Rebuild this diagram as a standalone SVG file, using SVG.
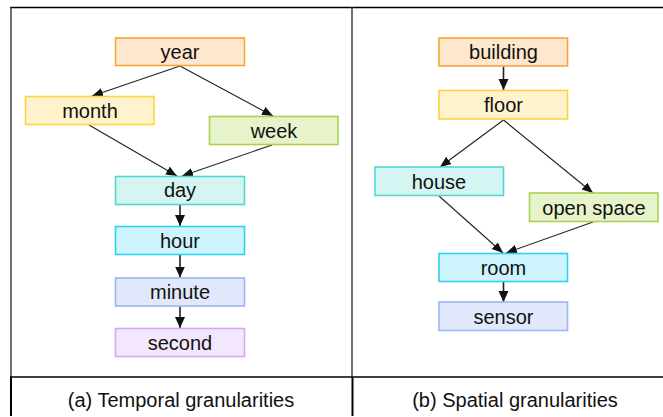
<svg xmlns="http://www.w3.org/2000/svg" width="663" height="417" viewBox="0 0 663 417">
  <style>
    .frame { stroke: #000; fill: none; }
    .box { stroke-width: 1.6; }
    .label { font-family: "Liberation Sans", Arial, sans-serif; font-size: 20px; fill: #111; text-anchor: middle; }
    .cap { font-family: "Liberation Sans", Arial, sans-serif; font-size: 20px; fill: #111; text-anchor: middle; }
    .edge { stroke: #222; stroke-width: 1.1; fill: none; marker-end: url(#arrow); }
    .edge.v { stroke-width: 1.6; marker-end: url(#arrowBig); }
    .orange { fill: #FFE7CD; stroke: #F7A536; }
    .yellow { fill: #FFF3CD; stroke: #FFD23E; }
    .green { fill: #E7F4CB; stroke: #A9D24F; }
    .teal { fill: #D5F5F3; stroke: #52D8D2; }
    .cyan { fill: #CDF3FC; stroke: #2FD3F0; }
    .blue { fill: #E1E8FC; stroke: #9DB4F6; }
    .purple { fill: #F3E7FD; stroke: #D7A7F6; }
  </style>
  <defs>
    <marker id="arrow" markerUnits="userSpaceOnUse" markerWidth="12" markerHeight="10" refX="11" refY="4.5" orient="auto">
      <path d="M0,0 L11,4.5 L0,9 Z" fill="#111"/>
    </marker>
    <marker id="arrowBig" markerUnits="userSpaceOnUse" markerWidth="12" markerHeight="12" refX="11" refY="5" orient="auto">
      <path d="M0,0 L11,5 L0,10 Z" fill="#111"/>
    </marker>
  </defs>

  <rect width="663" height="417" fill="#fff"/>

  <!-- table frame -->
  <g id="frame" class="frame">
    <line x1="10" y1="7.5" x2="663" y2="7.5" stroke-width="1.5"/>
    <line x1="11" y1="7" x2="11" y2="377" stroke-width="1.4" stroke="#333"/>
    <line x1="352" y1="7" x2="352" y2="377" stroke-width="1.4" stroke="#333"/>
    <line x1="10" y1="377" x2="663" y2="377" stroke-width="1.6"/>
    <line x1="11" y1="377" x2="11" y2="416" stroke-width="2"/>
    <line x1="352.5" y1="377" x2="352.5" y2="416" stroke-width="2"/>
  </g>

  <!-- connectors -->
  <g id="connectors">
    <line class="edge" x1="180" y1="66" x2="92" y2="96"/>
    <line class="edge" x1="180" y1="66" x2="273" y2="116"/>
    <line class="edge" x1="89" y1="125" x2="177" y2="176"/>
    <line class="edge" x1="272" y1="145" x2="182" y2="176"/>
    <line class="edge v" x1="180" y1="205" x2="180" y2="226"/>
    <line class="edge v" x1="180" y1="255" x2="180" y2="277.5"/>
    <line class="edge v" x1="180" y1="306.5" x2="180" y2="328"/>

    <line class="edge v" x1="503.5" y1="66.5" x2="503.5" y2="90"/>
    <line class="edge" x1="503.5" y1="120" x2="440" y2="167"/>
    <line class="edge" x1="503.5" y1="120" x2="593" y2="193"/>
    <line class="edge" x1="439" y1="196" x2="503" y2="253"/>
    <line class="edge" x1="593" y1="222" x2="506" y2="253"/>
    <line class="edge v" x1="503.5" y1="282" x2="503.5" y2="302"/>
  </g>

  <!-- temporal granularities -->
  <g id="year"><rect class="box orange" x="115.5" y="38" width="129" height="27.5"/><text class="label" x="180" y="59">year</text></g>
  <g id="month"><rect class="box yellow" x="25.5" y="96.5" width="128.5" height="28"/><text class="label" x="90" y="117.5">month</text></g>
  <g id="week"><rect class="box green" x="209.5" y="116.5" width="128.5" height="28"/><text class="label" x="274" y="137.5">week</text></g>
  <g id="day"><rect class="box teal" x="115.5" y="176.5" width="129" height="28"/><text class="label" x="180" y="197">day</text></g>
  <g id="hour"><rect class="box cyan" x="115.5" y="226.5" width="129" height="28"/><text class="label" x="180" y="247.5">hour</text></g>
  <g id="minute"><rect class="box blue" x="115.5" y="278" width="129" height="28"/><text class="label" x="180" y="299">minute</text></g>
  <g id="second"><rect class="box purple" x="115.5" y="328.5" width="129" height="28"/><text class="label" x="180" y="349.5">second</text></g>

  <!-- spatial granularities -->
  <g id="building"><rect class="box orange" x="439" y="38" width="128.5" height="28"/><text class="label" x="503.5" y="59">building</text></g>
  <g id="floor"><rect class="box yellow" x="439" y="90.5" width="128.5" height="28.5"/><text class="label" x="503.5" y="112">floor</text></g>
  <g id="house"><rect class="box teal" x="375" y="167" width="128.5" height="28.5"/><text class="label" x="439" y="188.5">house</text></g>
  <g id="open-space"><rect class="box green" x="529.5" y="193" width="128.5" height="28.5"/><text class="label" x="594" y="214.5">open space</text></g>
  <g id="room"><rect class="box cyan" x="439" y="253.5" width="128.5" height="28"/><text class="label" x="503.5" y="275">room</text></g>
  <g id="sensor"><rect class="box blue" x="439" y="302" width="128.5" height="28.5"/><text class="label" x="503.5" y="323.5">sensor</text></g>

  <!-- captions -->
  <text class="cap" x="181" y="407">(a) Temporal granularities</text>
  <text class="cap" x="515" y="407">(b) Spatial granularities</text>
</svg>
